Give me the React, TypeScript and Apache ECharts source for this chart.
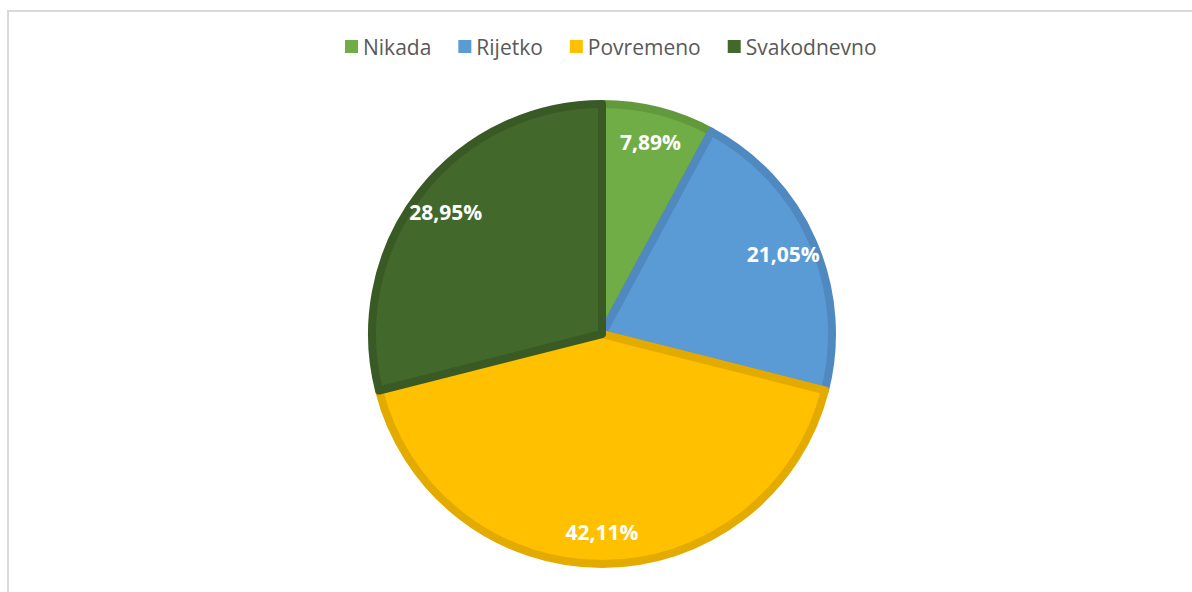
import React, { useEffect, useRef } from "react";
import * as echarts from "echarts";

const categories = ["Nikada", "Rijetko", "Povremeno", "Svakodnevno"];
const values = [7.89, 21.05, 42.11, 28.95];
const fillColors = ["#70AD47", "#5B9BD5", "#FFC000", "#43682B"];
const borderColors = ["#62993d", "#4f89c0", "#e3aa00", "#395a24"];

export default function App() {
  const ref = useRef<HTMLDivElement>(null);
  useEffect(() => {
    if (!ref.current) return;
    const chart = echarts.init(ref.current, null, { renderer: "svg" });
    const data = categories.map((name, i) => ({
      name,
      value: values[i],
      itemStyle: { color: fillColors[i], borderColor: borderColors[i] },
    }));
    const labelData = categories.map((name, i) => ({ name, value: values[i] }));
    chart.setOption({
      animation: false,
      backgroundColor: "#ffffff",
      legend: {
        data: categories,
        top: 31,
        left: 340,
        itemWidth: 13,
        itemHeight: 13,
        itemGap: 27,
        icon: "rect",
        itemStyle: { borderWidth: 0 },
        textStyle: { fontFamily: "Open Sans", fontSize: 21, color: "#595959" },
      },
      graphic: [
        {
          type: "rect",
          shape: { x: 8, y: 11, width: 1400, height: 800 },
          style: { fill: "none", stroke: "#d9d9d9", lineWidth: 2 },
          silent: true,
        },
      ],
      series: [
        {
          type: "pie",
          center: [602, 334],
          radius: [0, 230],
          startAngle: 90,
          clockwise: true,
          data,
          itemStyle: { borderWidth: 8 },
          label: { show: false },
          labelLine: { show: false },
          emphasis: { disabled: true },
        },
        {
          type: "pie",
          center: [602, 334],
          radius: [160, 230],
          startAngle: 90,
          clockwise: true,
          silent: true,
          data: labelData,
          itemStyle: { color: "rgba(0,0,0,0)", borderWidth: 0 },
          label: {
            show: true,
            position: "inside",
            formatter: (p: any) => p.value.toFixed(2).replace(".", ",") + "%",
            fontFamily: "Open Sans",
            fontWeight: "bold",
            fontSize: 21,
            color: "#ffffff",
          },
          labelLine: { show: false },
          emphasis: { disabled: true },
        },
      ],
    });
    return () => chart.dispose();
  }, []);
  return (
    <div style={{ position: "fixed", left: 0, top: 0, width: 1192, height: 592, overflow: "hidden" }}>
      <div ref={ref} style={{ width: 1192, height: 592 }} />
    </div>
  );
}
